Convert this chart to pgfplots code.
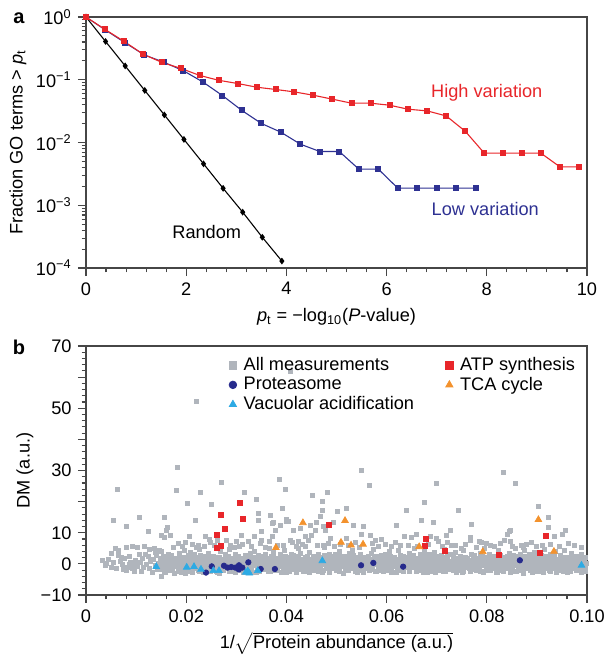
\documentclass[border=0pt]{standalone}
\usepackage{pgfplots}
\pgfplotsset{compat=1.18}
\usepackage{fontspec}
\setmainfont{Liberation Sans}
\definecolor{cred}{RGB}{232,38,42}
\definecolor{cblue}{RGB}{46,49,146}
\definecolor{cgray}{RGB}{176,181,188}
\definecolor{cnavy}{RGB}{38,42,140}
\definecolor{clblue}{RGB}{45,170,228}
\definecolor{corange}{RGB}{243,146,45}
\definecolor{cframe}{RGB}{70,70,70}
\pgfplotsset{
  myaxis/.style={
    scale only axis, anchor=south west,
    width=275.55pt,
    axis line style={cframe, line width=0.8pt},
    tick style={cframe, line width=0.6pt},
    tick align=outside, tick pos=left,
    major tick length=4.4pt, minor tick length=2.4pt,
    /pgf/number format/assume math mode=true,
    ticklabel style={font=\fontsize{10}{12}\selectfont},
    label style={font=\fontsize{10}{12}\selectfont},
  }
}
\begin{document}
\begin{tikzpicture}
\path[use as bounding box] (0,0) rectangle (333.85pt,361.9pt);
% ---------------- panel a
\begin{axis}[myaxis, at={(47.3pt,214.5pt)}, height=138.05pt,
  xmin=0, xmax=10, ymode=log, ymin=1e-4, ymax=1,
  xtick={0,2,4,6,8,10}, xticklabels={0,2,4,6,8,10}, minor x tick num=4,
  ytick={1e-4,1e-3,1e-2,1e-1,1},
  yticklabels={10\textsuperscript{−4},10\textsuperscript{−3},10\textsuperscript{−2},10\textsuperscript{−1},10\textsuperscript{0}},
  xlabel={\textit{p}\textsubscript{t} = −log\textsubscript{10}(\textit{P}-value)},
  ylabel={Fraction GO terms > \textit{p}\textsubscript{t}},
  xlabel style={at={(axis description cs:0.5,-0.195)}, anchor=center},
  ylabel style={at={(axis description cs:-0.136,0.5)}, anchor=center},
  clip=false]
\addplot[black, line width=0.6pt, mark=diamond*, mark size=1.4pt] table[row sep=\\] {
x y\\ 0 1\\ 0.391 0.407\\ 0.782 0.166\\ 1.173 0.0676\\ 1.564 0.0275\\ 1.955 0.0112\\ 2.346 0.00457\\ 2.737 0.00186\\ 3.128 0.000776\\ 3.519 0.000309\\ 3.91 0.000129\\
};
\addplot[cblue, line width=0.6pt, mark=square*, mark size=1.35pt] table[row sep=\\] {
x y\\ 0 1\\ 0.389 0.62\\ 0.778 0.39\\ 1.167 0.248\\ 1.556 0.19\\ 1.945 0.139\\ 2.334 0.092\\ 2.723 0.056\\ 3.112 0.0324\\ 3.501 0.0201\\ 3.89 0.0146\\ 4.279 0.0094\\ 4.668 0.00718\\ 5.057 0.00718\\ 5.446 0.00376\\ 5.835 0.00376\\ 6.224 0.00187\\ 6.613 0.00187\\ 7.002 0.00187\\ 7.391 0.00187\\ 7.78 0.00187\\
};
\addplot[cred, line width=0.6pt, mark=square*, mark size=1.35pt] table[row sep=\\] {
x y\\ 0 1\\ 0.378 0.635\\ 0.757 0.41\\ 1.135 0.257\\ 1.514 0.189\\ 1.892 0.152\\ 2.27 0.117\\ 2.65 0.098\\ 3.03 0.087\\ 3.41 0.076\\ 3.785 0.070\\ 4.16 0.064\\ 4.54 0.0566\\ 4.92 0.049\\ 5.30 0.0423\\ 5.68 0.0423\\ 6.06 0.0393\\ 6.43 0.0339\\ 6.81 0.0319\\ 7.19 0.0265\\ 7.57 0.0151\\ 7.95 0.00676\\ 8.33 0.00676\\ 8.71 0.00676\\ 9.08 0.00676\\ 9.46 0.00409\\ 9.84 0.00409\\
};
\node[text=cred, font=\fontsize{10}{12}\selectfont] at (axis cs:8.0,0.063) {High variation};
\node[text=cblue, font=\fontsize{10}{12}\selectfont] at (axis cs:7.97,0.00087) {Low variation};
\node[text=black, font=\fontsize{10}{12}\selectfont] at (axis cs:2.41,0.00037) {Random};
\end{axis}
% ---------------- panel b
\begin{axis}[myaxis, at={(47.3pt,34.65pt)}, height=136.95pt,
  xmin=0, xmax=0.1, ymin=-10, ymax=70,
  xtick={0,0.02,0.04,0.06,0.08,0.1}, xticklabels={0,0.02,0.04,0.06,0.08,0.10}, minor x tick num=4,
  ytick={-10,0,10,20,30,40,50,60,70}, yticklabels={−10,0,10,,30,,50,,70}, minor y tick num=4,
  xlabel={1/$\sqrt{\mbox{Protein abundance (a.u.)}}$},
  ylabel={DM (a.u.)},
  xlabel style={at={(axis description cs:0.5,-0.193)}, anchor=center},
  ylabel style={at={(axis description cs:-0.122,0.5)}, anchor=center},
  legend columns=2,
  legend image code/.code={\draw[mark repeat=2,mark phase=2] plot coordinates {(0cm,0cm)(0.15cm,0cm)(0.3cm,0cm)}; \path (0.28cm,0cm);},
  legend style={at={(axis description cs:0.274,0.985)}, anchor=north west, draw=none, fill=none,
    font=\fontsize{10}{12}\selectfont, column sep=0pt, row sep=-2pt,
    /tikz/every even column/.append style={column sep=15.4pt}},
  legend cell align=left]
% all measurements
\addplot[only marks, mark=square*, mark size=1.1pt, color=cgray, legend image post style={mark size=2pt}] table[row sep=\\] {
x y\\
0.0033 1.0\\ 0.0041 0.2\\ 0.005 -1.2\\ 0.0058 5.0\\ 0.0065 4.5\\ 0.007 2.1\\ 0.005 3.4\\ 0.008 5.2\\ 0.0093 5.5\\ 0.0102 5.3\\ 0.0086 2.5\\ 0.0083 -1.1\\ 0.0096 -0.4\\ 0.0096 -2.3\\ 0.0106 2.9\\ 0.0116 5.7\\ 0.0118 3.2\\ 0.0136 5.0\\ 0.0146 4.2\\ 0.015 -3.9\\
0.0038 -0.5\\ 0.0045 1.5\\ 0.0055 0.6\\ 0.0061 -1.6\\ 0.0068 0.9\\ 0.0072 -0.3\\ 0.0077 1.8\\ 0.0081 -2.0\\ 0.0089 0.4\\ 0.0092 -1.3\\ 0.0099 1.2\\ 0.0103 -0.8\\ 0.0108 0.6\\ 0.0111 -2.4\\ 0.0113 1.7\\ 0.0121 -0.2\\ 0.0124 2.3\\ 0.0127 -1.5\\ 0.0129 0.8\\ 0.0132 -2.7\\ 0.0134 1.4\\ 0.0138 -0.6\\ 0.0141 2.6\\ 0.0143 -1.9\\ 0.0145 0.3\\ 0.0148 1.9\\ 0.0139 3.8\\ 0.0126 4.6\\ 0.0115 -1.0\\ 0.0101 0.1\\ 0.0087 -0.2\\ 0.0074 -1.7\\ 0.0064 2.6\\
0.02196 52.2\\ 0.0407 61.7\\ 0.0183 30.9\\ 0.0063 24.1\\ 0.0181 23.5\\ 0.0229 22.9\\ 0.0270 26.2\\ 0.0317 23.1\\ 0.0385 27.0\\ 0.0397 23.8\\ 0.0203 19.3\\ 0.0251 19.1\\ 0.0341 20.8\\ 0.0391 17.7\\ 0.0055 13.9\\ 0.0106 15.1\\ 0.0157 15.1\\ 0.0218 14.1\\ 0.0080 12.0\\ 0.0163 11.85\\ 0.0124 10.3\\ 0.0161 10.9\\ 0.0151 9.3\\ 0.0156 8.4\\ 0.0168 9.3\\ 0.0206 8.7\\ 0.0238 9.0\\ 0.0246 8.0\\ 0.0224 6.0\\ 0.0236 5.7\\ 0.0403 13.8\\ 0.0371 13.0\\ 0.0345 16.2\\
0.0482 22.9\\ 0.0452 22.1\\ 0.0472 20.0\\ 0.0472 17.3\\ 0.0502 16.8\\ 0.0367 15.7\\ 0.0467 15.2\\ 0.0399 14.4\\ 0.0345 14.1\\ 0.0374 13.2\\ 0.0387 12.5\\ 0.0400 13.6\\ 0.0460 13.2\\ 0.0447 12.5\\ 0.0474 12.2\\ 0.0494 13.2\\ 0.0351 10.3\\ 0.0377 10.7\\ 0.0414 10.9\\ 0.0427 11.4\\ 0.0437 9.0\\ 0.0450 9.3\\ 0.0457 10.7\\ 0.0477 10.7\\ 0.0487 8.2\\ 0.0311 9.3\\ 0.0337 8.7\\ 0.0371 8.7\\ 0.0407 7.7\\ 0.0424 7.1\\ 0.0281 7.7\\ 0.0301 7.1\\ 0.0324 7.1\\ 0.0351 7.7\\ 0.0437 5.5\\ 0.0474 6.1\\
0.0549 30.2\\ 0.0565 25.3\\ 0.0700 25.9\\ 0.0519 17.9\\ 0.0675 19.7\\ 0.0640 17.3\\ 0.0744 17.1\\ 0.0669 13.9\\ 0.0694 13.2\\ 0.0620 12.5\\ 0.0728 10.9\\ 0.0720 9.3\\ 0.0553 12.0\\ 0.0534 12.3\\ 0.0567 9.3\\ 0.0590 7.9\\ 0.0578 7.5\\ 0.0635 8.7\\ 0.0650 8.4\\ 0.0659 9.6\\ 0.0687 8.7\\ 0.0699 8.2\\ 0.0703 7.1\\ 0.0730 6.1\\ 0.0749 5.0\\ 0.0550 9.6\\ 0.0520 8.2\\
0.0834 29.3\\ 0.0858 25.8\\ 0.0902 18.4\\ 0.0922 14.9\\ 0.0956 10.9\\ 0.0846 10.6\\ 0.0841 9.6\\ 0.0769 12.8\\ 0.0790 6.9\\ 0.0922 11.85\\ 0.0848 10.7\\ 0.0950 9.6\\ 0.0935 9.0\\ 0.0768 8.5\\ 0.0768 7.7\\ 0.0786 7.1\\ 0.0800 6.6\\ 0.0836 7.7\\ 0.0848 7.1\\ 0.0868 6.1\\ 0.0878 6.4\\ 0.0910 5.8\\
0.0185 6.5\\ 0.0192 5.5\\ 0.0199 7.0\\ 0.0213 6.2\\ 0.0221 5.2\\ 0.0248 6.8\\ 0.0256 5.9\\ 0.0263 7.4\\ 0.0289 6.0\\ 0.0296 5.4\\ 0.0312 6.4\\ 0.0331 5.6\\ 0.0349 6.6\\ 0.0358 5.3\\ 0.0366 7.2\\ 0.0381 6.1\\ 0.0394 5.8\\ 0.0412 6.9\\ 0.0419 5.5\\ 0.0431 6.3\\ 0.0444 7.4\\ 0.0461 5.9\\ 0.0483 6.5\\ 0.0496 5.6\\ 0.0508 6.2\\ 0.0524 5.8\\ 0.0538 7.0\\ 0.0546 5.4\\ 0.0571 6.6\\ 0.0583 5.7\\ 0.0597 6.3\\ 0.0609 5.5\\ 0.0618 6.9\\ 0.0627 5.9\\ 0.0644 6.1\\ 0.0662 5.6\\ 0.0683 6.4\\ 0.0712 5.5\\ 0.0722 6.8\\ 0.0738 5.8\\ 0.0758 6.2\\ 0.0779 5.4\\ 0.0808 6.0\\ 0.0816 5.5\\ 0.0827 6.6\\ 0.0852 5.7\\ 0.0873 5.3\\ 0.0889 6.8\\ 0.0898 5.6\\ 0.0926 6.2\\ 0.0944 5.5\\ 0.0963 6.7\\ 0.0975 5.8\\ 0.0988 5.2\\
0.01505 0.6\\ 0.01522 -1.9\\ 0.01538 2.4\\ 0.01561 -0.3\\ 0.01579 1.5\\ 0.01594 -2.7\\ 0.01512 4.1\\
0.01603 -1.1\\ 0.01628 0.9\\ 0.01645 3.0\\ 0.01662 -2.2\\ 0.01681 0.1\\ 0.01697 1.8\\ 0.01655 -0.6\\
0.01708 2.6\\ 0.01721 -1.5\\ 0.01744 0.5\\ 0.01769 -2.9\\ 0.01783 1.1\\ 0.01792 -0.2\\ 0.01735 5.2\\
0.01806 -0.8\\ 0.01827 1.9\\ 0.01841 -2.3\\ 0.01858 0.3\\ 0.01872 3.3\\ 0.01895 -1.3\\ 0.01812 0.9\\
0.01909 1.4\\ 0.01916 -2.0\\ 0.01937 -0.4\\ 0.01951 2.2\\ 0.01975 0.7\\ 0.01988 -3.1\\ 0.01965 4.4\\
0.02003 -1.7\\ 0.02024 0.2\\ 0.02039 2.8\\ 0.02057 -0.9\\ 0.02071 1.2\\ 0.02093 -2.4\\ 0.02085 3.6\\
0.02108 0.8\\ 0.02114 -2.6\\ 0.02133 1.6\\ 0.02152 -0.1\\ 0.02166 3.1\\ 0.02184 -1.4\\ 0.02197 0.4\\
0.02201 2.0\\ 0.02223 -0.7\\ 0.02241 -2.1\\ 0.02256 1.0\\ 0.02278 -1.2\\ 0.02289 2.7\\ 0.02265 4.8\\
0.02304 -0.3\\ 0.02318 1.7\\ 0.02336 -2.8\\ 0.02359 0.6\\ 0.02377 2.3\\ 0.02394 -1.6\\ 0.02345 -0.9\\
0.02406 1.2\\ 0.02427 -1.0\\ 0.02443 3.4\\ 0.02461 0.0\\ 0.02482 -2.3\\ 0.02496 1.5\\ 0.02433 -0.5\\
0.02512 -1.9\\ 0.02529 0.8\\ 0.02547 2.5\\ 0.02561 -0.6\\ 0.02585 1.9\\ 0.02598 -2.5\\ 0.02574 0.3\\
0.02603 0.5\\ 0.02621 -1.4\\ 0.02638 2.0\\ 0.02652 -2.9\\ 0.02673 1.1\\ 0.02691 3.9\\ 0.02667 -0.2\\
0.02709 -0.8\\ 0.02722 1.6\\ 0.02746 -2.0\\ 0.02768 0.2\\ 0.02779 2.9\\ 0.02794 -1.1\\ 0.02733 0.9\\
0.02807 2.3\\ 0.02815 -0.5\\ 0.02839 0.9\\ 0.02853 -2.4\\ 0.02877 1.4\\ 0.02899 -0.9\\ 0.02862 4.6\\
0.02902 -1.5\\ 0.02926 0.1\\ 0.02941 1.9\\ 0.02963 -0.7\\ 0.02975 3.2\\ 0.02987 -2.6\\ 0.02918 1.0\\
0.03011 0.7\\ 0.03024 -1.8\\ 0.03045 2.4\\ 0.03058 -0.2\\ 0.03079 1.3\\ 0.03092 -2.2\\ 0.03066 5.6\\
0.03105 -0.9\\ 0.03119 1.8\\ 0.03132 -2.7\\ 0.03154 0.4\\ 0.03171 2.6\\ 0.03188 -1.3\\ 0.03143 0.0\\
0.03203 1.5\\ 0.03228 -0.4\\ 0.03242 -2.1\\ 0.03267 0.9\\ 0.03273 3.5\\ 0.03295 -1.0\\ 0.03251 2.0\\
0.03306 -1.7\\ 0.03317 0.6\\ 0.03339 2.1\\ 0.03356 -0.6\\ 0.03374 1.1\\ 0.03391 -2.8\\ 0.03362 4.0\\
0.03409 0.2\\ 0.03425 -1.2\\ 0.03441 2.7\\ 0.03463 -2.4\\ 0.03476 0.8\\ 0.03497 1.7\\ 0.03434 -0.3\\
0.03502 -0.7\\ 0.03523 1.4\\ 0.03538 -1.9\\ 0.03557 0.5\\ 0.03572 3.0\\ 0.03586 -1.4\\ 0.03599 0.1\\
0.03611 1.9\\ 0.03627 -0.1\\ 0.03645 -2.5\\ 0.03663 1.2\\ 0.03679 -0.8\\ 0.03693 2.4\\ 0.03652 5.0\\
0.03704 -1.3\\ 0.03718 0.3\\ 0.03735 2.2\\ 0.03756 -0.4\\ 0.03771 1.0\\ 0.03789 -2.2\\ 0.03742 3.6\\
0.03808 0.9\\ 0.03822 -1.6\\ 0.03841 1.7\\ 0.03859 -0.3\\ 0.03874 2.9\\ 0.03896 -2.7\\ 0.03867 0.4\\
0.03903 -0.5\\ 0.03914 1.2\\ 0.03937 -2.0\\ 0.03948 0.6\\ 0.03972 2.3\\ 0.03985 -1.1\\ 0.03959 4.3\\
0.04006 1.6\\ 0.04021 -0.8\\ 0.04044 0.0\\ 0.04061 -2.4\\ 0.04077 1.4\\ 0.04095 3.1\\ 0.04053 -1.5\\
0.04102 -1.9\\ 0.04127 0.7\\ 0.04139 2.6\\ 0.04158 -0.6\\ 0.04175 1.0\\ 0.04193 -2.6\\ 0.04164 0.3\\
0.04211 0.4\\ 0.04225 -1.3\\ 0.04246 1.9\\ 0.04264 -0.2\\ 0.04279 3.3\\ 0.04288 -1.8\\ 0.04237 4.9\\
0.04307 -0.9\\ 0.04319 1.5\\ 0.04337 -2.3\\ 0.04352 0.2\\ 0.04373 2.0\\ 0.04396 -1.2\\ 0.04365 0.8\\
0.04408 2.2\\ 0.04424 -0.4\\ 0.04442 0.9\\ 0.04468 -2.8\\ 0.04471 1.3\\ 0.04492 -0.7\\ 0.04453 3.7\\
0.04505 -1.4\\ 0.04526 0.5\\ 0.04539 2.4\\ 0.04551 -0.9\\ 0.04577 1.6\\ 0.04594 -2.1\\ 0.04562 0.0\\
0.04612 0.8\\ 0.04628 -1.7\\ 0.04642 2.9\\ 0.04657 0.1\\ 0.04679 -0.6\\ 0.04696 1.9\\ 0.04635 -2.5\\
0.04703 -0.2\\ 0.04721 1.1\\ 0.04734 -2.0\\ 0.04755 2.6\\ 0.04778 0.3\\ 0.04789 -1.3\\ 0.04748 5.3\\
0.04809 1.3\\ 0.04817 -0.8\\ 0.04842 0.6\\ 0.04864 -2.6\\ 0.04871 2.0\\ 0.04893 -0.3\\ 0.04856 3.2\\
0.04904 -1.6\\ 0.04922 0.2\\ 0.04941 1.8\\ 0.04953 -0.5\\ 0.04976 3.0\\ 0.04998 -2.2\\ 0.04931 0.9\\
0.05013 0.6\\ 0.05024 -1.1\\ 0.05047 2.3\\ 0.05066 -2.4\\ 0.05072 1.0\\ 0.05091 -0.1\\ 0.05058 4.1\\
0.05107 -0.7\\ 0.05118 1.7\\ 0.05135 -2.9\\ 0.05159 0.4\\ 0.05171 2.5\\ 0.05186 -1.4\\ 0.05146 0.0\\
0.05203 1.1\\ 0.05229 -0.2\\ 0.05244 -1.9\\ 0.05251 2.1\\ 0.05276 0.7\\ 0.05297 -0.9\\ 0.05262 3.4\\
0.05304 -1.2\\ 0.05321 0.9\\ 0.05339 2.7\\ 0.05358 -0.4\\ 0.05372 1.4\\ 0.05385 -2.3\\ 0.05315 4.5\\
0.05406 0.3\\ 0.05427 -1.5\\ 0.05436 1.9\\ 0.05462 -0.8\\ 0.05479 2.9\\ 0.05493 -2.0\\ 0.05451 0.6\\
0.05509 -0.3\\ 0.05516 1.4\\ 0.05544 -2.6\\ 0.05557 0.8\\ 0.05573 2.2\\ 0.05591 -1.1\\ 0.05529 -0.1\\
0.05602 2.0\\ 0.05624 -0.6\\ 0.05643 0.4\\ 0.05659 -2.2\\ 0.05675 1.2\\ 0.05698 3.5\\ 0.05661 -1.4\\
0.05711 -1.8\\ 0.05722 0.6\\ 0.05748 2.4\\ 0.05753 -0.3\\ 0.05772 1.0\\ 0.05794 -2.5\\ 0.05737 4.8\\
0.05806 0.9\\ 0.05829 -1.0\\ 0.05845 1.7\\ 0.05861 -2.0\\ 0.05878 0.2\\ 0.05899 2.6\\ 0.05853 -0.5\\
0.05905 -0.6\\ 0.05915 1.9\\ 0.05933 -2.4\\ 0.05954 0.5\\ 0.05969 3.1\\ 0.05985 -1.3\\ 0.05941 1.0\\
0.06007 1.5\\ 0.06026 -0.4\\ 0.06042 -2.1\\ 0.06061 0.8\\ 0.06077 2.3\\ 0.06095 -0.9\\ 0.06053 3.9\\
0.06104 -1.4\\ 0.06123 0.3\\ 0.06137 2.0\\ 0.06151 -0.7\\ 0.06174 1.2\\ 0.06191 -2.8\\ 0.06166 0.6\\
0.06209 0.7\\ 0.06222 -1.7\\ 0.06246 1.4\\ 0.06259 -0.1\\ 0.06278 2.8\\ 0.06296 -2.2\\ 0.06234 4.3\\
0.06302 -0.8\\ 0.06316 1.6\\ 0.06335 -2.5\\ 0.06358 0.2\\ 0.06371 2.2\\ 0.06387 -1.1\\ 0.06345 0.9\\
0.06406 2.1\\ 0.06428 -0.3\\ 0.06437 0.7\\ 0.06464 -2.0\\ 0.06476 1.3\\ 0.06492 -0.9\\ 0.06451 3.4\\
0.06505 -1.1\\ 0.06521 0.5\\ 0.06542 2.6\\ 0.06556 -0.5\\ 0.06573 1.8\\ 0.06598 -2.4\\ 0.06563 5.1\\
0.06612 0.2\\ 0.06627 -1.5\\ 0.06641 1.7\\ 0.06655 -0.2\\ 0.06678 3.0\\ 0.06691 -2.0\\ 0.06633 0.8\\
0.06704 -0.4\\ 0.06722 1.2\\ 0.06739 -2.7\\ 0.06751 0.6\\ 0.06776 2.4\\ 0.06789 -1.2\\ 0.06747 4.0\\
0.06813 1.4\\ 0.06825 -0.7\\ 0.06844 0.3\\ 0.06867 -2.3\\ 0.06875 1.9\\ 0.06894 -0.1\\ 0.06858 2.9\\
0.06901 -1.9\\ 0.06918 0.9\\ 0.06936 2.2\\ 0.06957 -0.6\\ 0.06962 1.1\\ 0.06983 -2.6\\ 0.06945 3.6\\
0.07006 0.5\\ 0.07023 -1.2\\ 0.07048 1.8\\ 0.07065 -2.1\\ 0.07078 0.7\\ 0.07096 2.7\\ 0.07059 -0.4\\
0.07111 -0.8\\ 0.07126 1.5\\ 0.07138 -2.4\\ 0.07153 0.1\\ 0.07177 2.1\\ 0.07192 -1.5\\ 0.07145 4.6\\
0.07208 1.0\\ 0.07221 -0.2\\ 0.07247 -1.8\\ 0.07264 0.8\\ 0.07271 2.9\\ 0.07295 -0.9\\ 0.07236 0.3\\
0.07303 -1.4\\ 0.07318 0.6\\ 0.07342 2.3\\ 0.07357 -0.5\\ 0.07374 1.3\\ 0.07389 -2.7\\ 0.07365 3.8\\
0.07407 0.4\\ 0.07425 -1.6\\ 0.07439 1.7\\ 0.07458 -0.3\\ 0.07476 2.5\\ 0.07497 -2.2\\ 0.07446 0.9\\
0.07502 -0.6\\ 0.07516 1.3\\ 0.07534 -2.3\\ 0.07553 0.7\\ 0.07579 2.0\\ 0.07586 -1.0\\ 0.07541 4.4\\
0.07608 1.8\\ 0.07627 -0.5\\ 0.07641 0.2\\ 0.07662 -2.5\\ 0.07673 1.1\\ 0.07695 3.2\\ 0.07654 -1.3\\
0.07709 -1.7\\ 0.07721 0.8\\ 0.07746 2.6\\ 0.07754 -0.2\\ 0.07775 1.4\\ 0.07798 -2.0\\ 0.07733 0.0\\
0.07803 0.1\\ 0.07829 -1.3\\ 0.07843 1.9\\ 0.07857 -0.8\\ 0.07874 3.4\\ 0.07891 -2.4\\ 0.07866 0.6\\
0.07912 -0.4\\ 0.07917 1.6\\ 0.07938 -2.8\\ 0.07955 0.5\\ 0.07971 2.2\\ 0.07985 -1.1\\ 0.07946 4.9\\
0.08006 1.2\\ 0.08023 -0.9\\ 0.08041 0.3\\ 0.08064 -2.2\\ 0.08078 2.0\\ 0.08092 -0.2\\ 0.08052 3.0\\
0.08108 -1.5\\ 0.08121 0.4\\ 0.08137 2.4\\ 0.08159 -0.7\\ 0.08173 1.0\\ 0.08196 -2.6\\ 0.08165 0.8\\
0.08203 0.7\\ 0.08227 -1.8\\ 0.08244 1.5\\ 0.08256 0.0\\ 0.08272 2.8\\ 0.08294 -2.1\\ 0.08235 4.2\\
0.08305 -0.9\\ 0.08318 1.8\\ 0.08336 -2.4\\ 0.08353 0.3\\ 0.08375 2.1\\ 0.08387 -1.2\\ 0.08348 0.9\\
0.08401 2.3\\ 0.08426 -0.5\\ 0.08448 0.8\\ 0.08461 -2.7\\ 0.08473 1.2\\ 0.08498 -0.8\\ 0.08452 3.5\\
0.08507 -1.2\\ 0.08519 0.6\\ 0.08532 2.7\\ 0.08555 -0.4\\ 0.08576 1.6\\ 0.08589 -2.3\\ 0.08562 5.0\\
0.08609 0.3\\ 0.08626 -1.6\\ 0.08648 1.9\\ 0.08653 -0.1\\ 0.08677 3.1\\ 0.08694 -2.0\\ 0.08636 0.7\\
0.08702 -0.5\\ 0.08725 1.3\\ 0.08737 -2.9\\ 0.08752 0.8\\ 0.08778 2.4\\ 0.08783 -1.4\\ 0.08745 4.3\\
0.08814 1.6\\ 0.08822 -0.6\\ 0.08845 0.2\\ 0.08861 -2.2\\ 0.08879 1.8\\ 0.08895 0.0\\ 0.08856 2.9\\
0.08903 -1.8\\ 0.08916 0.7\\ 0.08931 2.0\\ 0.08958 -0.8\\ 0.08968 1.1\\ 0.08987 -2.5\\ 0.08944 3.7\\
0.09008 0.6\\ 0.09025 -1.1\\ 0.09046 1.7\\ 0.09067 -2.3\\ 0.09075 0.5\\ 0.09092 2.6\\ 0.09053 -0.3\\
0.09112 -0.7\\ 0.09123 1.4\\ 0.09135 -2.6\\ 0.09151 0.2\\ 0.09172 2.3\\ 0.09197 -1.6\\ 0.09143 4.7\\
0.09204 1.1\\ 0.09226 -0.3\\ 0.09241 -2.0\\ 0.09263 0.9\\ 0.09277 3.0\\ 0.09298 -1.0\\ 0.09235 0.4\\
0.09306 -1.3\\ 0.09314 0.5\\ 0.09345 2.5\\ 0.09352 -0.6\\ 0.09373 1.5\\ 0.09386 -2.8\\ 0.09367 3.9\\
0.09409 0.5\\ 0.09421 -1.7\\ 0.09437 1.6\\ 0.09458 -0.2\\ 0.09474 2.7\\ 0.09493 -2.1\\ 0.09441 0.9\\
0.09503 -0.5\\ 0.09512 1.2\\ 0.09536 -2.5\\ 0.09551 0.7\\ 0.09578 2.1\\ 0.09584 -1.2\\ 0.09545 4.4\\
0.09607 1.9\\ 0.09628 -0.4\\ 0.09643 0.3\\ 0.09659 -2.4\\ 0.09676 1.0\\ 0.09692 3.3\\ 0.09657 -1.0\\
0.09704 -1.6\\ 0.09722 0.8\\ 0.09745 2.4\\ 0.09758 -0.3\\ 0.09771 1.5\\ 0.09797 -2.2\\ 0.09736 0.1\\
0.09805 0.2\\ 0.09826 -1.4\\ 0.09847 1.8\\ 0.09855 -0.7\\ 0.09878 2.9\\ 0.09891 -2.7\\ 0.09863 0.6\\
0.09904 -0.8\\ 0.09918 1.4\\ 0.09932 -2.0\\ 0.09951 0.4\\ 0.09968 2.2\\ 0.09962 -1.3\\
0.01512 -1.0\\ 0.01534 1.3\\ 0.01571 -2.4\\ 0.01588 0.2\\ 0.01605 2.5\\ 0.01641 -0.4\\ 0.01659 0.9\\ 0.01683 -1.8\\
0.01718 0.0\\ 0.01729 -2.1\\ 0.01764 1.8\\ 0.01792 -0.7\\ 0.01812 1.5\\ 0.01834 -1.3\\ 0.01871 -0.1\\ 0.01888 2.2\\
0.01905 -2.6\\ 0.01941 0.6\\ 0.01959 2.0\\ 0.01983 -0.3\\ 0.02018 0.9\\ 0.02029 -0.6\\ 0.02064 -1.6\\ 0.02092 1.2\\
0.02112 -0.2\\ 0.02134 2.3\\ 0.02171 -1.1\\ 0.02188 0.5\\ 0.02205 -1.0\\ 0.02241 1.3\\ 0.02259 -2.4\\ 0.02283 0.2\\
0.02318 2.5\\ 0.02329 -0.4\\ 0.02364 0.9\\ 0.02392 -1.8\\ 0.02412 0.0\\ 0.02434 -2.1\\ 0.02471 1.8\\ 0.02488 -0.7\\
0.02505 1.5\\ 0.02541 -1.3\\ 0.02559 -0.1\\ 0.02583 2.2\\ 0.02618 -2.6\\ 0.02629 0.6\\ 0.02664 2.0\\ 0.02692 -0.3\\
0.02712 0.9\\ 0.02734 -0.6\\ 0.02771 -1.6\\ 0.02788 1.2\\ 0.02805 -0.2\\ 0.02841 2.3\\ 0.02859 -1.1\\ 0.02883 0.5\\
0.02918 -1.0\\ 0.02929 1.3\\ 0.02964 -2.4\\ 0.02992 0.2\\ 0.03012 2.5\\ 0.03034 -0.4\\ 0.03071 0.9\\ 0.03088 -1.8\\
0.03105 0.0\\ 0.03141 -2.1\\ 0.03159 1.8\\ 0.03183 -0.7\\ 0.03218 1.5\\ 0.03229 -1.3\\ 0.03264 -0.1\\ 0.03292 2.2\\
0.03312 -2.6\\ 0.03334 0.6\\ 0.03371 2.0\\ 0.03388 -0.3\\ 0.03405 0.9\\ 0.03441 -0.6\\ 0.03459 -1.6\\ 0.03483 1.2\\
0.03518 -0.2\\ 0.03529 2.3\\ 0.03564 -1.1\\ 0.03592 0.5\\ 0.03612 -1.0\\ 0.03634 1.3\\ 0.03671 -2.4\\ 0.03688 0.2\\
0.03705 2.5\\ 0.03741 -0.4\\ 0.03759 0.9\\ 0.03783 -1.8\\ 0.03818 0.0\\ 0.03829 -2.1\\ 0.03864 1.8\\ 0.03892 -0.7\\
0.03912 1.5\\ 0.03934 -1.3\\ 0.03971 -0.1\\ 0.03988 2.2\\ 0.04005 -2.6\\ 0.04041 0.6\\ 0.04059 2.0\\ 0.04083 -0.3\\
0.04118 0.9\\ 0.04129 -0.6\\ 0.04164 -1.6\\ 0.04192 1.2\\ 0.04212 -0.2\\ 0.04234 2.3\\ 0.04271 -1.1\\ 0.04288 0.5\\
0.04305 -1.0\\ 0.04341 1.3\\ 0.04359 -2.4\\ 0.04383 0.2\\ 0.04418 2.5\\ 0.04429 -0.4\\ 0.04464 0.9\\ 0.04492 -1.8\\
0.04512 0.0\\ 0.04534 -2.1\\ 0.04571 1.8\\ 0.04588 -0.7\\ 0.04605 1.5\\ 0.04641 -1.3\\ 0.04659 -0.1\\ 0.04683 2.2\\
0.04718 -2.6\\ 0.04729 0.6\\ 0.04764 2.0\\ 0.04792 -0.3\\ 0.04812 0.9\\ 0.04834 -0.6\\ 0.04871 -1.6\\ 0.04888 1.2\\
0.04905 -0.2\\ 0.04941 2.3\\ 0.04959 -1.1\\ 0.04983 0.5\\ 0.05018 -1.0\\ 0.05029 1.3\\ 0.05064 -2.4\\ 0.05092 0.2\\
0.05112 2.5\\ 0.05134 -0.4\\ 0.05171 0.9\\ 0.05188 -1.8\\ 0.05205 0.0\\ 0.05241 -2.1\\ 0.05259 1.8\\ 0.05283 -0.7\\
0.05318 1.5\\ 0.05329 -1.3\\ 0.05364 -0.1\\ 0.05392 2.2\\ 0.05412 -2.6\\ 0.05434 0.6\\ 0.05471 2.0\\ 0.05488 -0.3\\
0.05505 0.9\\ 0.05541 -0.6\\ 0.05559 -1.6\\ 0.05583 1.2\\ 0.05618 -0.2\\ 0.05629 2.3\\ 0.05664 -1.1\\ 0.05692 0.5\\
0.05712 -1.0\\ 0.05734 1.3\\ 0.05771 -2.4\\ 0.05788 0.2\\ 0.05805 2.5\\ 0.05841 -0.4\\ 0.05859 0.9\\ 0.05883 -1.8\\
0.05918 0.0\\ 0.05929 -2.1\\ 0.05964 1.8\\ 0.05992 -0.7\\ 0.06012 1.5\\ 0.06034 -1.3\\ 0.06071 -0.1\\ 0.06088 2.2\\
0.06105 -2.6\\ 0.06141 0.6\\ 0.06159 2.0\\ 0.06183 -0.3\\ 0.06218 0.9\\ 0.06229 -0.6\\ 0.06264 -1.6\\ 0.06292 1.2\\
0.06312 -0.2\\ 0.06334 2.3\\ 0.06371 -1.1\\ 0.06388 0.5\\ 0.06405 -1.0\\ 0.06441 1.3\\ 0.06459 -2.4\\ 0.06483 0.2\\
0.06518 2.5\\ 0.06529 -0.4\\ 0.06564 0.9\\ 0.06592 -1.8\\ 0.06612 0.0\\ 0.06634 -2.1\\ 0.06671 1.8\\ 0.06688 -0.7\\
0.06705 1.5\\ 0.06741 -1.3\\ 0.06759 -0.1\\ 0.06783 2.2\\ 0.06818 -2.6\\ 0.06829 0.6\\ 0.06864 2.0\\ 0.06892 -0.3\\
0.06912 0.9\\ 0.06934 -0.6\\ 0.06971 -1.6\\ 0.06988 1.2\\ 0.07005 -0.2\\ 0.07041 2.3\\ 0.07059 -1.1\\ 0.07083 0.5\\
0.07118 -1.0\\ 0.07129 1.3\\ 0.07164 -2.4\\ 0.07192 0.2\\ 0.07212 2.5\\ 0.07234 -0.4\\ 0.07271 0.9\\ 0.07288 -1.8\\
0.07305 0.0\\ 0.07341 -2.1\\ 0.07359 1.8\\ 0.07383 -0.7\\ 0.07418 1.5\\ 0.07429 -1.3\\ 0.07464 -0.1\\ 0.07492 2.2\\
0.07512 -2.6\\ 0.07534 0.6\\ 0.07571 2.0\\ 0.07588 -0.3\\ 0.07605 0.9\\ 0.07641 -0.6\\ 0.07659 -1.6\\ 0.07683 1.2\\
0.07718 -0.2\\ 0.07729 2.3\\ 0.07764 -1.1\\ 0.07792 0.5\\ 0.07812 -1.0\\ 0.07834 1.3\\ 0.07871 -2.4\\ 0.07888 0.2\\
0.07905 2.5\\ 0.07941 -0.4\\ 0.07959 0.9\\ 0.07983 -1.8\\ 0.08018 0.0\\ 0.08029 -2.1\\ 0.08064 1.8\\ 0.08092 -0.7\\
0.08112 1.5\\ 0.08134 -1.3\\ 0.08171 -0.1\\ 0.08188 2.2\\ 0.08205 -2.6\\ 0.08241 0.6\\ 0.08259 2.0\\ 0.08283 -0.3\\
0.08318 0.9\\ 0.08329 -0.6\\ 0.08364 -1.6\\ 0.08392 1.2\\ 0.08412 -0.2\\ 0.08434 2.3\\ 0.08471 -1.1\\ 0.08488 0.5\\
0.08505 -1.0\\ 0.08541 1.3\\ 0.08559 -2.4\\ 0.08583 0.2\\ 0.08618 2.5\\ 0.08629 -0.4\\ 0.08664 0.9\\ 0.08692 -1.8\\
0.08712 0.0\\ 0.08734 -2.1\\ 0.08771 1.8\\ 0.08788 -0.7\\ 0.08805 1.5\\ 0.08841 -1.3\\ 0.08859 -0.1\\ 0.08883 2.2\\
0.08918 -2.6\\ 0.08929 0.6\\ 0.08964 2.0\\ 0.08992 -0.3\\ 0.09012 0.9\\ 0.09034 -0.6\\ 0.09071 -1.6\\ 0.09088 1.2\\
0.09105 -0.2\\ 0.09141 2.3\\ 0.09159 -1.1\\ 0.09183 0.5\\ 0.09218 -1.0\\ 0.09229 1.3\\ 0.09264 -2.4\\ 0.09292 0.2\\
0.09312 2.5\\ 0.09334 -0.4\\ 0.09371 0.9\\ 0.09388 -1.8\\ 0.09405 0.0\\ 0.09441 -2.1\\ 0.09459 1.8\\ 0.09483 -0.7\\
0.09518 1.5\\ 0.09529 -1.3\\ 0.09564 -0.1\\ 0.09592 2.2\\ 0.09612 -2.6\\ 0.09634 0.6\\ 0.09671 2.0\\ 0.09688 -0.3\\
0.09705 0.9\\ 0.09741 -0.6\\ 0.09759 -1.6\\ 0.09783 1.2\\ 0.09818 -0.2\\ 0.09829 2.3\\ 0.09864 -1.1\\ 0.09892 0.5\\
0.09912 -1.0\\ 0.09934 1.3\\ 0.09971 -2.4\\ 0.09988 0.2\\
};
\addlegendentry{All measurements}
% ATP synthesis
\addplot[only marks, mark=square*, mark size=1.45pt, color=cred, legend image post style={mark size=2pt}] table[row sep=\\] {
x y\\ 0.03074 19.65\\ 0.02695 15.8\\ 0.03134 14.5\\ 0.02774 11.3\\ 0.02609 9.4\\ 0.02695 5.8\\ 0.02609 5.2\\ 0.0485 12.6\\ 0.0678 8.0\\ 0.0676 5.7\\ 0.0716 4.2\\ 0.0824 2.85\\ 0.0918 9.05\\ 0.0906 3.6\\
};
\addlegendentry{ATP synthesis}
% Proteasome
\addplot[only marks, mark=*, mark size=1.5pt, color=cnavy, legend image post style={mark size=2.1pt}] table[row sep=\\] {
x y\\ 0.02395 -2.8\\ 0.0251 -0.8\\ 0.02754 -0.6\\ 0.02828 -1.2\\ 0.0298 -1.2\\ 0.03054 -0.45\\ 0.0312 -1.2\\ 0.0324 0.5\\ 0.03487 -1.65\\ 0.0377 -1.65\\ 0.0549 -0.46\\ 0.05735 0.3\\ 0.0633 -0.9\\ 0.0866 1.15\\ 0.0305 -1.8\\ 0.0290 -1.0\\
};
\addlegendentry{Proteasome}
% TCA cycle
\addplot[only marks, mark=triangle*, mark size=2.1pt, color=corange, legend image post style={mark size=2.3pt}] table[row sep=\\] {
x y\\ 0.0379 5.2\\ 0.0433 13.2\\ 0.0517 13.9\\ 0.0509 6.9\\ 0.0529 6.0\\ 0.0553 6.3\\ 0.0665 5.5\\ 0.0792 3.9\\ 0.0903 14.2\\ 0.0934 4.0\\
};
\addlegendentry{TCA cycle}
% Vacuolar acidification
\addplot[only marks, mark=triangle*, mark size=2.1pt, color=clblue, legend image post style={mark size=2.3pt}] table[row sep=\\] {
x y\\ 0.01403 -0.9\\ 0.0201 -1.1\\ 0.02156 -0.9\\ 0.02295 -1.74\\ 0.0254 -2.2\\ 0.02655 -2.2\\ 0.0319 -2.7\\ 0.0326 -3.0\\ 0.0323 -2.3\\ 0.03427 -2.2\\ 0.04717 1.0\\ 0.0989 -0.46\\
};
\addlegendentry{Vacuolar acidification}
\end{axis}
\node[font=\fontsize{11}{13}\selectfont\bfseries] at (10.45pt,352pt) {a};
\node[font=\fontsize{11}{13}\selectfont\bfseries] at (10.45pt,171.05pt) {b};
\end{tikzpicture}
\end{document}
